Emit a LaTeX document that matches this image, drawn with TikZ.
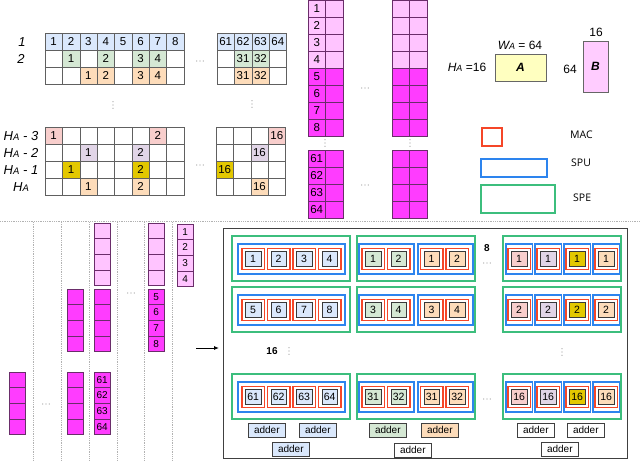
\documentclass[tikz,border=0pt]{standalone}
\usepackage{fontspec}
\setmainfont{Liberation Sans}
\newfontfamily\legendfont{Open Sans}
\usetikzlibrary{arrows.meta}
\definecolor{cblue}{HTML}{DAE8FC}
\definecolor{cgreen}{HTML}{D5E8D4}
\definecolor{corange}{HTML}{FDDCBA}
\definecolor{cpink}{HTML}{F8CECC}
\definecolor{clav}{HTML}{E1D5E7}
\definecolor{cyellow}{HTML}{E3C800}
\definecolor{cmag}{HTML}{FF3CFF}
\definecolor{clmag}{HTML}{FFC4FF}
\definecolor{mborder}{HTML}{6A2D6A}
\definecolor{macred}{RGB}{245,70,40}
\definecolor{spublue}{RGB}{45,132,238}
\definecolor{spegreen}{RGB}{60,190,125}
\definecolor{abox}{HTML}{FFFFC0}
\definecolor{bbox}{HTML}{FFCCFF}
\newcommand\grow[4]{%
  \foreach \c/\t/\f in {#4}
    \node[gcell, fill=\f] (#1-\c) at ({#2+(\c-1)*17.375},#3) {\t};}
\newcommand\bcolE[4]{%
  \foreach \k in {1,...,4}
    \node[bcell, fill=#4] (#1-\k) at (#2,{#3+(\k-1)*15.6}) {};}
\newcommand\bcolN[5]{%
  \foreach \k in {1,...,4}{%
    \pgfmathtruncatemacro\nn{#5+\k-1}%
    \node[bcell, fill=#4] (#1-\k) at (#2,{#3+(\k-1)*15.6}) {\nn};}}
\newcommand\macu[5]{%
  \node[macbox] (#1) at (#2,#3) {};
  \node[incell, fill=#4] (#1c) at (#1.center) {#5};}
\newcommand\leftSPE[6]{%
  \node[spebox, minimum width=118pt] (speL#1) at (231,#2) {};
  \node[spubox, minimum width=107pt] (spuL#1) at (237,#2+8) {};
  \macu{macL#1a}{241}{#2+12.5}{cblue}{#3}
  \macu{macL#1b}{266.5}{#2+12.5}{cblue}{#4}
  \macu{macL#1c}{292}{#2+12.5}{cblue}{#5}
  \macu{macL#1d}{317.5}{#2+12.5}{cblue}{#6}}
\newcommand\midSPE[6]{%
  \node[spebox, minimum width=118pt] (speM#1) at (356,#2) {};
  \node[spubox, minimum width=55pt] (spuMg#1) at (358,#2+8) {};
  \node[spubox, minimum width=55pt] (spuMo#1) at (417,#2+8) {};
  \macu{macM#1a}{361}{#2+12.5}{cgreen}{#3}
  \macu{macM#1b}{386.5}{#2+12.5}{cgreen}{#4}
  \macu{macM#1c}{419.5}{#2+12.5}{corange}{#5}
  \macu{macM#1d}{445}{#2+12.5}{corange}{#6}}
\newcommand\rightSPE[3]{%
  \node[spebox, minimum width=118pt] (speR#1) at (502,#2) {};
  \foreach \xx/\ff/\ll in {505/cpink/a,534/clav/b,563/cyellow/c,592/corange/d}{%
    \node[spubox, minimum width=26.5pt] (spuR#1\ll) at (\xx,#2+8) {};
    \macu{macR#1\ll}{\xx+2}{#2+12.5}{\ff}{#3}}}
% three dots, horizontal or vertical
\newcommand\hdts[3]{%
  \foreach \i in {-1,0,1} \node[dotc] (#1\i) at ({#2+3.2*\i},#3) {};}
\newcommand\vdts[3]{%
  \foreach \i in {-1,0,1} \node[dotc] (#1\i) at (#2,{#3+3.2*\i}) {};}
\begin{document}
\begin{tikzpicture}[x=1pt,y=-1pt]
\tikzset{
  gcell/.style={draw=gray!75!black, line width=0.5pt, minimum width=17.375pt, minimum height=17pt,
    inner sep=0pt, outer sep=0pt, anchor=north west, font=\fontsize{11.5}{12}\selectfont},
  mcell/.style={draw=mborder, line width=0.5pt, minimum width=17.4pt, minimum height=17pt,
    inner sep=0pt, outer sep=0pt, anchor=north west, font=\fontsize{11.5}{12}\selectfont},
  bcell/.style={draw=mborder, line width=0.5pt, minimum width=16.5pt, minimum height=15.6pt,
    inner sep=0pt, outer sep=0pt, anchor=north west, font=\fontsize{10}{11}\selectfont},
  rowlab/.style={font=\fontsize{13}{14}\selectfont\itshape, inner sep=0pt},
  dotc/.style={circle, fill=gray!80, inner sep=0pt, minimum size=1.3pt},
  spebox/.style={draw=spegreen, line width=1.6pt, minimum height=45pt, inner sep=0pt, anchor=north west},
  spubox/.style={draw=spublue, line width=1.6pt, minimum height=30pt, inner sep=0pt, anchor=north west},
  macbox/.style={draw=macred, line width=1.8pt, minimum width=22.5pt, minimum height=21pt, inner sep=0pt, anchor=north west},
  incell/.style={draw=gray!45!black, line width=0.7pt, minimum width=15.5pt, minimum height=15pt, inner sep=0pt,
    font=\fontsize{10.5}{11}\selectfont},
  adder/.style={draw=gray!50!black, line width=0.6pt, minimum width=37pt, minimum height=13.5pt, inner sep=0pt,
    anchor=north west, font=\fontsize{10}{10}\selectfont},
  sepline/.style={draw=gray!60, densely dotted, line width=0.8pt},
  boldlab/.style={font=\fontsize{10}{10}\selectfont\bfseries, inner sep=0pt},
  leglab/.style={font=\legendfont\fontsize{10.5}{11}\selectfont, anchor=west, inner sep=0pt}
}
\useasboundingbox (0,0) rectangle (640,461);

% ---------- top grids ----------
\node[rowlab] (l1) at (22,42) {1};
\node[rowlab] (l2) at (21,59) {2};
\grow{ga1}{45}{33}{1/1/cblue,2/2/cblue,3/3/cblue,4/4/cblue,5/5/cblue,6/6/cblue,7/7/cblue,8/8/cblue}
\grow{ga2}{45}{50}{1/{}/white,2/1/cgreen,3/{}/white,4/2/cgreen,5/{}/white,6/3/cgreen,7/4/cgreen,8/{}/white}
\grow{ga3}{45}{67}{1/{}/white,2/{}/white,3/1/corange,4/2/corange,5/{}/white,6/3/corange,7/4/corange,8/{}/white}
\grow{gb1}{217}{33}{1/61/cblue,2/62/cblue,3/63/cblue,4/64/cblue}
\grow{gb2}{217}{50}{1/{}/white,2/31/cgreen,3/32/cgreen,4/{}/white}
\grow{gb3}{217}{67}{1/{}/white,2/31/corange,3/32/corange,4/{}/white}
\hdts{d1}{200}{61}
\vdts{v1}{113}{105}
\vdts{v2}{252}{104}

\node[rowlab] (h3) at (21,136) {H{\fontsize{9.5}{10}\selectfont A} - 3};
\node[rowlab] (h2) at (21,153) {H{\fontsize{9.5}{10}\selectfont A} - 2};
\node[rowlab] (h1) at (21,170) {H{\fontsize{9.5}{10}\selectfont A} - 1};
\node[rowlab] (h0) at (21,187) {H{\fontsize{9.5}{10}\selectfont A}};
\grow{gc1}{45}{127}{1/1/cpink,2/{}/white,3/{}/white,4/{}/white,5/{}/white,6/{}/white,7/2/cpink,8/{}/white}
\grow{gc2}{45}{144}{1/{}/white,2/{}/white,3/1/clav,4/{}/white,5/{}/white,6/2/clav,7/{}/white,8/{}/white}
\grow{gc3}{45}{161}{1/{}/white,2/1/cyellow,3/{}/white,4/{}/white,5/{}/white,6/2/cyellow,7/{}/white,8/{}/white}
\grow{gc4}{45}{178}{1/{}/white,2/{}/white,3/1/corange,4/{}/white,5/{}/white,6/2/corange,7/{}/white,8/{}/white}
\grow{gd1}{216}{127}{1/{}/white,2/{}/white,3/{}/white,4/16/cpink}
\grow{gd2}{216}{144}{1/{}/white,2/{}/white,3/16/clav,4/{}/white}
\grow{gd3}{216}{161}{1/16/cyellow,2/{}/white,3/{}/white,4/{}/white}
\grow{gd4}{216}{178}{1/{}/white,2/{}/white,3/16/corange,4/{}/white}
\hdts{d2}{200}{165}

% ---------- top magenta columns ----------
\foreach \k in {1,...,8}{%
  \ifnum\k<5 \def\ff{clmag}\else\def\ff{cmag}\fi
  \node[mcell, fill=\ff] (pa-\k) at (308,{(\k-1)*17}) {\k};
  \node[mcell, fill=\ff] (qa-\k) at (325.4,{(\k-1)*17}) {};
  \node[mcell, fill=\ff] (pb-\k) at (392,{(\k-1)*17}) {};
  \node[mcell, fill=\ff] (qb-\k) at (409.4,{(\k-1)*17}) {};
}
\foreach \k in {1,...,4}{%
  \pgfmathtruncatemacro\nn{60+\k}
  \node[mcell, fill=cmag] (ra-\k) at (308,{150+(\k-1)*17}) {\nn};
  \node[mcell, fill=cmag] (sa-\k) at (325.4,{150+(\k-1)*17}) {};
  \node[mcell, fill=cmag] (rb-\k) at (392,{150+(\k-1)*17}) {};
  \node[mcell, fill=cmag] (sb-\k) at (409.4,{150+(\k-1)*17}) {};
}
\vdts{v3}{325}{143}
\vdts{v4}{410}{143}
\hdts{d3}{365}{88}
\hdts{d4}{365}{185}

% ---------- A and B ----------
\node[font=\fontsize{12}{12}\selectfont, inner sep=0pt] (wa) at (520,45) {\textit{W{\fontsize{9}{9}\selectfont A}} = 64};
\node[font=\fontsize{12}{12}\selectfont, inner sep=0pt] (ha) at (467,67) {\textit{H{\fontsize{9}{9}\selectfont A}} =16};
\node[draw=gray!80!black, line width=0.6pt, fill=abox, minimum width=51pt, minimum height=27pt, inner sep=0pt,
  font=\fontsize{12}{12}\selectfont\bfseries\itshape] (A) at (520.5,67.5) {A};
\node[draw=gray!80!black, line width=0.6pt, fill=bbox, minimum width=25pt, minimum height=51pt, inner sep=0pt,
  font=\fontsize{12}{12}\selectfont\bfseries\itshape] (B) at (595.5,66.5) {B};
\node[font=\fontsize{12}{12}\selectfont, inner sep=0pt] (b16) at (596,32) {16};
\node[font=\fontsize{12}{12}\selectfont, inner sep=0pt] (b64) at (570,69) {64};

% ---------- legend ----------
\node[macbox, minimum width=20pt, minimum height=18pt, line width=1.5pt] (lmac) at (481,127) {};
\node[spubox, minimum width=66pt, minimum height=18pt, line width=1.5pt] (lspu) at (480,158) {};
\node[spebox, minimum width=74pt, minimum height=28pt, line width=1.5pt] (lspe) at (480,184) {};
\node[leglab] (tmac) at (570,135) {MAC};
\node[leglab] (tspu) at (571,163) {SPU};
\node[leglab] (tspe) at (573,198) {SPE};

% ---------- separators ----------
\coordinate (hl) at (0,221);
\coordinate (hr) at (640,221);
\draw[sepline] (hl) -- (hr);
\foreach \x [count=\i] in {33,61,89,117,144,172}{%
  \coordinate (vt\i) at (\x,222);
  \coordinate (vb\i) at (\x,461);
  \draw[sepline] (vt\i) -- (vb\i);
}

% ---------- bottom-left columns ----------
\bcolE{ba}{9}{372}{cmag}
\bcolE{bb1}{67}{289}{cmag}
\bcolE{bb2}{67}{372}{cmag}
\bcolE{bc1}{94}{223}{clmag}
\bcolE{bc2}{94}{289}{cmag}
\bcolN{bc3}{94}{372}{cmag}{61}
\bcolE{bd1}{148}{223}{clmag}
\bcolN{bd2}{148}{289}{cmag}{5}
\bcolN{be}{177}{224}{clmag}{1}
\hdts{d5}{46}{404}
\hdts{d6}{131}{293}

\coordinate (arrs) at (196,348);
\coordinate (arre) at (219,348);
\draw[-{Latex[length=5pt,width=4pt]}, line width=0.9pt] (arrs) -- (arre);

% ---------- big box ----------
\node[draw=black!75, line width=1.3pt, minimum width=404pt, minimum height=230pt, inner sep=0pt, anchor=north west] (big) at (223,228) {};

\leftSPE{1}{235}{1}{2}{3}{4}
\leftSPE{2}{286}{5}{6}{7}{8}
\leftSPE{3}{373}{61}{62}{63}{64}
\midSPE{1}{235}{1}{2}{1}{2}
\midSPE{2}{286}{3}{4}{3}{4}
\midSPE{3}{373}{31}{32}{31}{32}
\rightSPE{1}{235}{1}
\rightSPE{2}{286}{2}
\rightSPE{3}{373}{16}

\node[boldlab] (n8) at (487,248) {8};
\hdts{d7}{487}{263}
\node[boldlab] (n16) at (272,351) {16};
\vdts{v5}{289}{351}
\vdts{v6}{562}{352}
\hdts{d8}{487}{399}

% ---------- adders ----------
\node[adder, fill=cblue] (adL1) at (248,423) {adder};
\node[adder, fill=cblue] (adL2) at (299,423) {adder};
\node[adder, fill=cblue] (adL3) at (272,442) {adder};
\node[adder, fill=cgreen] (adM1) at (369,423) {adder};
\node[adder, fill=corange] (adM2) at (421,423) {adder};
\node[adder, fill=white] (adM3) at (394,443) {adder};
\node[adder, fill=white] (adR1) at (517,423) {adder};
\node[adder, fill=white] (adR2) at (567,423) {adder};
\node[adder, fill=white] (adR3) at (541,442) {adder};
\end{tikzpicture}
\end{document}
